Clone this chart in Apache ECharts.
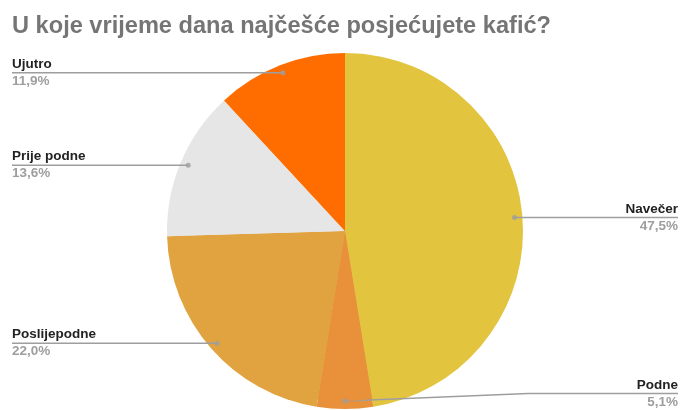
<!DOCTYPE html>
<html lang="bs">
<head>
	<meta charset="UTF-8">
	<title>Kafić</title>
	<script src="https://cdn.jsdelivr.net/npm/echarts@6/dist/echarts.min.js"></script>
	<style>
		html,body{margin:0;padding:0;width:100%;height:100%;background:#fff;}
		#chart{width:680px;height:410px;}
	</style>
</head>
<body>
	<div id="chart"></div>
<script>
	var titleText = 'U koje vrijeme dana najčešće posjećujete kafić?';
	var categories = ['Navečer', 'Podne', 'Poslijepodne', 'Prije podne', 'Ujutro'];
	var values = [47.5, 5.1, 22.0, 13.6, 11.9];
	var colors = ['#e2c43e', '#e8903a', '#e0a33f', '#e6e6e6', '#ff6d00'];

	var CX = 345, CY = 231, R = 178, LINE_R = 170;
	var FONT = '"Liberation Sans", Arial, sans-serif';

	var pieData = [];
	var total = 0;
	for (var i = 0; i < values.length; i++) {
		pieData.push({name: categories[i], value: values[i], itemStyle: {color: colors[i]}});
		total += values[i];
	}
	// mid value of each slice, used for the little dots and line starts
	var midValues = [];
	var dotData = [];
	var acc = 0;
	for (var i = 0; i < values.length; i++) {
		midValues.push(acc + values[i] / 2);
		dotData.push([1, acc + values[i] / 2]);
		acc += values[i];
	}

	var myChart = echarts.init(document.getElementById('chart'));
	var option = {
		animation: false,
		title: {
			text: titleText,
			left: 12,
			top: 14,
			padding: 0,
			textStyle: {fontFamily: FONT, fontSize: 23.6, fontWeight: 'bold', color: '#757575'}
		},
		polar: {center: [CX, CY], radius: LINE_R},
		angleAxis: {type: 'value', min: 0, max: total, startAngle: 90, clockwise: true, show: false},
		radiusAxis: {type: 'value', min: 0, max: 1, show: false},
		series: [
			{
				type: 'pie',
				center: [CX, CY],
				radius: R,
				startAngle: 90,
				clockwise: true,
				silent: true,
				z: 2,
				label: {show: false},
				labelLine: {show: false},
				data: pieData
			},
			{
				// invisible pie only used for labels
				type: 'pie',
				left: 12,
				right: 2,
				center: [CX - 12, CY],
				radius: LINE_R,
				startAngle: 90,
				clockwise: true,
				silent: true,
				z: 4,
				itemStyle: {color: 'rgba(0,0,0,0)'},
				label: {
					show: true,
					position: 'outer',
					alignTo: 'edge',
					edgeDistance: 0,
					formatter: function (p) {
						return '{n|' + p.name + '}\n{v|' + p.value.toFixed(1).replace('.', ',') + '%}';
					},
					rich: {
						n: {fontFamily: FONT, fontSize: 13.5, fontWeight: 'bold', color: '#222', lineHeight: 17},
						v: {fontFamily: FONT, fontSize: 13.5, fontWeight: 'bold', color: '#9e9e9e', lineHeight: 17}
					}
				},
				labelLine: {
					show: true,
					length: 0,
					length2: 10,
					lineStyle: {color: '#9e9e9e', width: 1.5}
				},
				labelLayout: function (params) {
					var r = params.labelRect;
					var a = midValues[params.dataIndex] / total * Math.PI * 2;
					var start = [CX + LINE_R * Math.sin(a), CY - LINE_R * Math.cos(a)];
					var left = r.x + r.width / 2 < CX;
					var y = r.y + r.height / 2;
					var end = [left ? r.x : r.x + r.width, y];
					var mid = [start[0] + (end[0] - start[0]) * 0.55, y];
					return {labelLinePoints: [start, mid, end]};
				},
				data: pieData
			},
			{
				type: 'scatter',
				coordinateSystem: 'polar',
				symbol: 'circle',
				symbolSize: 5,
				silent: true,
				itemStyle: {color: '#9e9e9e'},
				data: dotData,
				z: 6
			}
		]
	};
	myChart.setOption(option);
</script>
</body>
</html>
